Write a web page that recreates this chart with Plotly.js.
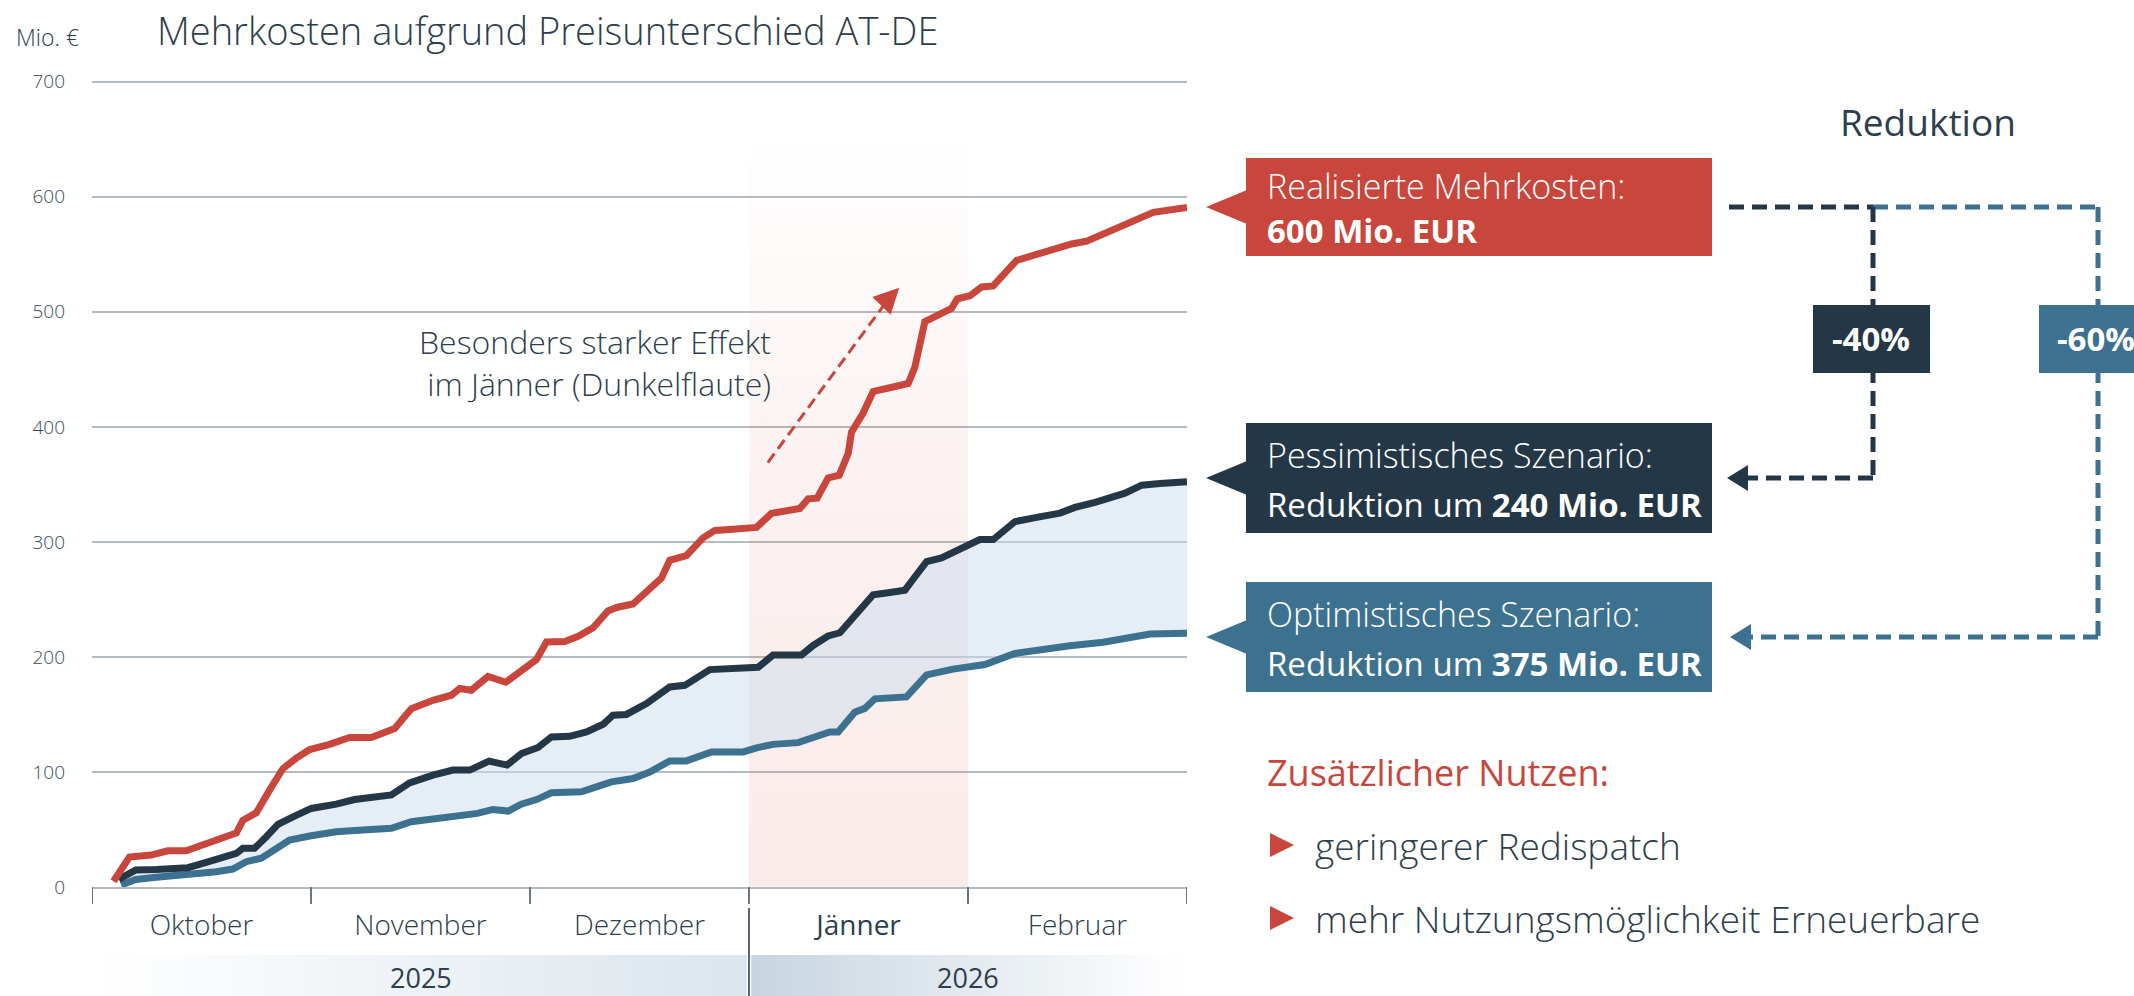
<!DOCTYPE html>
<html><head><meta charset="utf-8">
<script src="https://cdn.plot.ly/plotly-3.0.1.min.js"></script>
<style>html,body{margin:0;padding:0;background:#fff;overflow:hidden}#chart{width:2134px;height:996px}</style>
</head><body><div id="chart"></div>
<script>
// ---------- data ----------
const months = ['Oktober', 'November', 'Dezember', 'Jänner', 'Februar'];
const monthPos = [0.5, 1.5, 2.5, 3.5, 4.5];
const monthEdges = [0, 1, 2, 3, 4, 5];
const years = ['2025', '2026'];
const yearStart = [0, 3];
const yearEnd = [3, 5];
const yTicks = [0, 100, 200, 300, 400, 500, 600, 700];

// x in months since 1 October (0 = start of Oktober, 5 = end of Februar)
const realX = [0.098,0.171,0.27,0.346,0.43,0.506,0.59,0.659,0.689,0.75,0.81,0.872,0.933,0.994,1.085,1.176,1.275,1.382,1.458,1.557,1.641,1.679,1.732,1.808,1.889,1.953,2.029,2.075,2.159,2.22,2.288,2.356,2.395,2.47,2.539,2.6,2.638,2.714,2.79,2.844,2.927,3.034,3.103,3.232,3.27,3.311,3.361,3.412,3.453,3.468,3.521,3.567,3.643,3.727,3.757,3.803,3.872,3.925,3.951,4.009,4.062,4.115,4.222,4.29,4.374,4.473,4.542,4.618,4.709,4.785,4.846,5.0];
const realY = [5,26,27.8,31.5,31.5,36.5,41.4,47,58,64.5,84,103,112,119.5,124,130,130,137.7,155,162.3,166.7,172.5,171,183,178,187,197.6,213,213.5,218,225.4,240,243,246,258,268.5,284,288,303.5,310,311,312.6,324.8,329,337.4,338,355.6,358,377,395.4,412,430.8,434,437.7,451.7,491.4,498,503,511.3,514,521.6,522.5,544.7,549,553.3,559,561.4,567.7,575,582,586.5,590.8];

const pessX = [0.122,0.2,0.293,0.438,0.506,0.582,0.659,0.689,0.742,0.796,0.849,0.918,1.001,1.115,1.199,1.367,1.45,1.557,1.648,1.725,1.813,1.895,1.961,2.037,2.098,2.181,2.258,2.334,2.379,2.44,2.532,2.638,2.707,2.821,2.927,3.042,3.11,3.24,3.293,3.361,3.415,3.491,3.567,3.635,3.712,3.757,3.811,3.879,3.978,4.054,4.115,4.214,4.313,4.42,4.488,4.58,4.717,4.793,4.877,5.0];
const pessY = [6.6,14.8,15.2,16.8,20.5,24.3,29.2,33.6,33.6,43.7,54.4,61,68.3,72,76,80,90.5,97.2,101.6,101.6,109.4,106,116,121.3,130.5,131,134.8,141.5,149.3,150,159.5,173.9,175.3,189,190,191,201.7,201.7,210,218.2,221,237.5,254,255.8,258,269.5,282.8,286,296,302,302,317.6,321.3,325,330,334.3,342.4,349.3,350.7,352.4];

const optX = [0.133,0.2,0.293,0.445,0.567,0.643,0.704,0.773,0.834,0.902,0.994,1.115,1.237,1.367,1.458,1.64,1.76,1.83,1.9,1.96,2.03,2.098,2.235,2.303,2.372,2.47,2.547,2.638,2.714,2.829,2.974,3.034,3.11,3.224,3.308,3.369,3.407,3.483,3.529,3.575,3.719,3.811,3.932,4.077,4.214,4.344,4.465,4.618,4.725,4.831,5.0];
const optY = [1.7,6.6,8.4,10.4,13.3,15.6,22,25,32,40.8,44.3,48,49.5,51,56.7,61,64,67.4,66,72,76,81.9,82.7,87,91.4,94.3,100,109.6,109.6,117.4,117.4,121,124,125.5,130.5,134.8,134.8,152,155.3,163.6,165.2,184.4,189.4,193.4,203,206.9,209.8,212.7,216,219.9,220.5];

// highlighted month (Jänner) and its shading height
const highlightMonth = [3, 4];
const highlightTop = 655;

// ---------- styling ----------
const FONT = '"Open Sans", "Noto Sans", sans-serif';
const TXT = '#2d3e4e';
const RED = '#c8463c';
const DARK = '#243746';
const BLUE = '#3d7190';
const FILL = 'rgba(205,220,237,0.52)';

const W = 2134, H = 996, L = 92, R = 1187, T = 76, B = 887;
const px = x => (x - L) / (R - L);
const py = y => (B - y) / (B - T);

const traces = [
  { // Jänner shading
    x: [highlightMonth[0], highlightMonth[1], highlightMonth[1], highlightMonth[0], highlightMonth[0]],
    y: [0, 0, highlightTop, highlightTop, 0],
    mode: 'lines', fill: 'toself', line: {width: 0}, hoverinfo: 'skip', showlegend: false,
    fillgradient: {type: 'vertical', start: 0, stop: highlightTop,
      colorscale: [[0, 'rgba(210,90,75,0.12)'], [0.55, 'rgba(210,90,75,0.08)'], [1, 'rgba(210,90,75,0)']]}
  },
  {x: optX, y: optY, mode: 'lines', line: {color: BLUE, width: 7}, hoverinfo: 'skip', showlegend: false},
  {x: pessX, y: pessY, mode: 'lines', fill: 'tonexty', fillcolor: FILL, line: {color: DARK, width: 7}, hoverinfo: 'skip', showlegend: false},
  {x: realX, y: realY, mode: 'lines', line: {color: RED, width: 7}, hoverinfo: 'skip', showlegend: false}
];

const shapes = [];
const ann = [];

// month tick marks
monthEdges.forEach(m => shapes.push({type: 'line', xref: 'x', yref: 'paper', x0: m, x1: m, y0: py(887), y1: py(904), line: {color: '#6d7782', width: 2}}));
// separator between years
shapes.push({type: 'line', xref: 'x', yref: 'paper', x0: 3, x1: 3, y0: py(908), y1: py(996), line: {color: '#5a6570', width: 2}});

// year bands with gradient (slices)
function hex2rgb(h) { return [parseInt(h.slice(1,3),16), parseInt(h.slice(3,5),16), parseInt(h.slice(5,7),16)]; }
function mix(a, b, t) { const A = hex2rgb(a), Bc = hex2rgb(b); return 'rgb(' + A.map((v,i)=>Math.round(v + (Bc[i]-v)*t)).join(',') + ')'; }
const bandCols = [['#ffffff', '#dbe5ed'], ['#c7d5e0', '#ffffff']];
years.forEach((yr, i) => {
  const a = yearStart[i], b = yearEnd[i], n = 80;
  for (let k = 0; k < n; k++) {
    const x0 = a + (b - a) * k / n + (i === 1 && k === 0 ? 0.01 : 0);
    const x1 = a + (b - a) * (k + 1) / n + 0.005;
    shapes.push({type: 'rect', xref: 'x', yref: 'paper', x0: x0, x1: Math.min(x1, b - (i === 0 && k === n - 1 ? 0.01 : 0)), y0: py(996), y1: py(955),
      fillcolor: mix(bandCols[i][0], bandCols[i][1], k / (n - 1)), line: {width: 0}, layer: 'below'});
  }
  ann.push({xref: 'x', yref: 'paper', x: (a + b) / 2, y: py(977), text: yr, showarrow: false,
    font: {family: FONT, size: 27, color: TXT}, xanchor: 'center', yanchor: 'middle'});
});

// dashed annotation arrow in chart
shapes.push({type: 'line', xref: 'x', yref: 'y', x0: 3.086, y0: 369, x1: 3.64, y1: 512, line: {color: RED, width: 3, dash: '11px,6px'}});
ann.push({xref: 'x', yref: 'y', x: 3.686, y: 521, axref: 'x', ayref: 'y', ax: 3.63, ay: 510, text: '', showarrow: true,
  arrowhead: 2, arrowsize: 1.7, arrowwidth: 3, arrowcolor: RED});
ann.push({xref: 'paper', yref: 'paper', x: px(773), y: py(362), text: 'Besonders starker Effekt<br>im Jänner (Dunkelflaute)',
  showarrow: false, align: 'right', xanchor: 'right', yanchor: 'middle', font: {family: FONT, size: 32, color: TXT, weight: 300}});

// "Mio. €"
ann.push({xref: 'paper', yref: 'paper', x: px(14), y: py(37), text: 'Mio. €', showarrow: false, xanchor: 'left', yanchor: 'middle',
  font: {family: FONT, size: 23, color: TXT, weight: 300}});

// ---------- right-hand panel ----------
function rectPx(x0, y0, x1, y1, color) {
  shapes.push({type: 'rect', xref: 'paper', yref: 'paper', x0: px(x0), x1: px(x1), y0: py(y1), y1: py(y0), fillcolor: color, line: {width: 0}});
}
function polyPx(pts, color) {
  const d = pts.map((p, i) => (i ? 'L' : 'M') + px(p[0]).toFixed(5) + ',' + py(p[1]).toFixed(5)).join(' ') + ' Z';
  shapes.push({type: 'path', xref: 'paper', yref: 'paper', path: d, fillcolor: color, line: {width: 0}});
}
function linePx(x0, y0, x1, y1, color) {
  shapes.push({type: 'line', xref: 'paper', yref: 'paper', x0: px(x0), x1: px(x1), y0: py(y0), y1: py(y1), line: {color: color, width: 5, dash: '15px,8px'}});
}
function textPx(text, x, y, size, color, opt) {
  ann.push(Object.assign({xref: 'paper', yref: 'paper', x: px(x), y: py(y), text: text, showarrow: false,
    xanchor: 'left', yanchor: 'middle', font: {family: FONT, size: size, color: color, weight: 300}}, opt || {}));
}

textPx('Reduktion', 1928, 122, 37, TXT, {xanchor: 'center', font: {family: FONT, size: 37, color: TXT, weight: 400}});

const boxes = [
  {y0: 158, y1: 256, color: RED, l1: 'Realisierte Mehrkosten:', l2: '<b>600 Mio. EUR</b>'},
  {y0: 423, y1: 533, color: DARK, l1: 'Pessimistisches Szenario:', l2: 'Reduktion um <b>240 Mio. EUR</b>'},
  {y0: 582, y1: 692, color: BLUE, l1: 'Optimistisches Szenario:', l2: 'Reduktion um <b>375 Mio. EUR</b>'}
];
boxes.forEach(b => {
  rectPx(1246, b.y0, 1712, b.y1, b.color);
  const c = (b.y0 + b.y1) / 2;
  polyPx([[1206, c], [1247, c - 17], [1247, c + 17]], b.color);
  textPx(b.l1, 1265, b.y0 + (b.y1 - b.y0) * 0.29, 34, '#ffffff');
  textPx(b.l2, 1265, b.y0 + (b.y1 - b.y0) * 0.74, 33, '#ffffff', {font: {family: FONT, size: 33, color: '#ffffff', weight: 400}});
});

// connectors
linePx(1729, 207, 1873, 207, DARK);
linePx(1873, 207, 2098, 207, BLUE);
linePx(1873, 207, 1873, 478, DARK);
linePx(1873, 478, 1742, 478, DARK);
linePx(2098, 207, 2098, 637, BLUE);
linePx(2098, 637, 1745, 637, BLUE);
polyPx([[1727, 478], [1748, 465], [1748, 491]], DARK);
polyPx([[1730, 637], [1751, 624], [1751, 650]], BLUE);

rectPx(1813, 305, 1930, 373, DARK);
rectPx(2039, 305, 2157, 373, BLUE);
textPx('<b>-40%</b>', 1871, 339, 33, '#ffffff', {xanchor: 'center', font: {family: FONT, size: 33, color: '#ffffff', weight: 400}});
textPx('<b>-60%</b>', 2096, 339, 33, '#ffffff', {xanchor: 'center', font: {family: FONT, size: 33, color: '#ffffff', weight: 400}});

textPx('Zusätzlicher Nutzen:', 1265, 772, 36, RED, {font: {family: FONT, size: 36, color: RED, weight: 400}});
const benefits = ['geringerer Redispatch', 'mehr Nutzungsmöglichkeit Erneuerbare'];
const benefitY = [845, 918];
benefits.forEach((t, i) => {
  polyPx([[1270, benefitY[i] - 12], [1294, benefitY[i]], [1270, benefitY[i] + 12]], RED);
  textPx(t, 1313, benefitY[i], 37, TXT);
});

const layout = {
  width: W, height: H,
  margin: {l: L, r: W - R, t: T, b: H - B, pad: 0},
  paper_bgcolor: '#ffffff', plot_bgcolor: 'rgba(0,0,0,0)',
  hovermode: false, showlegend: false,
  title: {text: 'Mehrkosten aufgrund Preisunterschied AT-DE', xref: 'container', yref: 'container',
    x: 157 / W, xanchor: 'left', y: 1 - 32 / H, yanchor: 'middle',
    font: {family: FONT, size: 38, color: TXT, weight: 300}},
  xaxis: {range: [0, 5], tickmode: 'array', tickvals: monthPos,
    ticktext: months.map(m => m === 'Jänner' ? '<span style="font-weight:400">' + m + '</span>' : m),
    ticks: '', showgrid: false, zeroline: false,
    showline: true, linecolor: '#b4bbc1', linewidth: 2, ticklabelstandoff: 12,
    tickfont: {family: FONT, size: 28, color: TXT, weight: 300}, fixedrange: true},
  yaxis: {range: [0, 705], tickmode: 'array', tickvals: yTicks, ticks: '', showgrid: true, gridcolor: '#b4bbc1', gridwidth: 2,
    zeroline: false, showline: false, ticklabelstandoff: 26,
    tickfont: {family: FONT, size: 19, color: '#3a4a57', weight: 300}, fixedrange: true},
  shapes: shapes, annotations: ann
};

Plotly.newPlot('chart', traces, layout, {displayModeBar: false, staticPlot: true});
</script></body></html>
